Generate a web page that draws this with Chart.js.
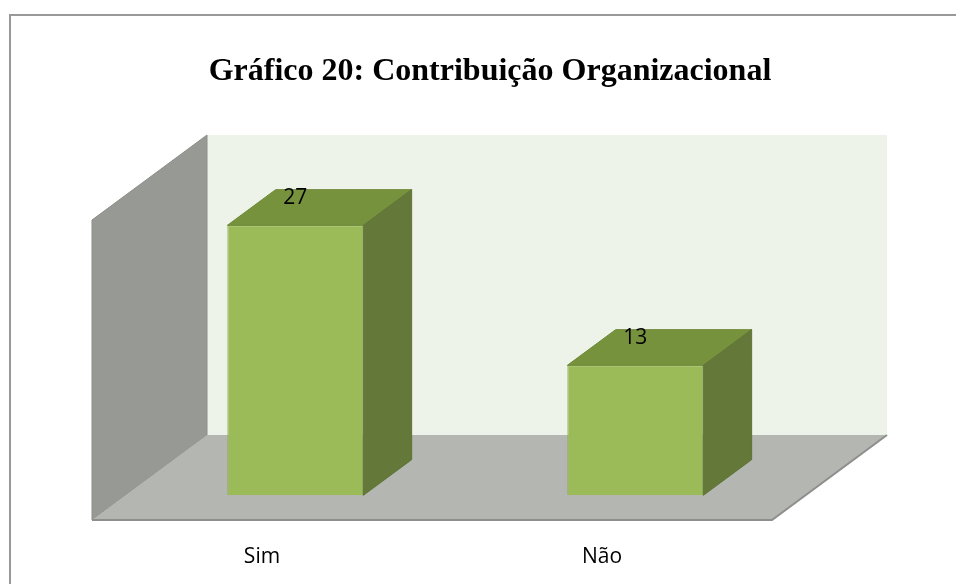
<!DOCTYPE html>
<html>
<head>
<meta charset="utf-8">
<script src="https://cdn.jsdelivr.net/npm/chart.js@4.4.0/dist/chart.umd.min.js"></script>
<style>
html, body { margin: 0; padding: 0; background: #fff; }
</style>
</head>
<body>
<canvas id="grafico" width="957" height="584"></canvas>
<script>
var categorias = ["Sim", "Não"];
var respostas = [27, 13];
var titulo = "Gráfico 20: Contribuição Organizacional";
var eixoMax = 30;

// profundidade do efeito 3d (px) e posicao das barras dentro dela
var prof = { dx: 115, dy: -85 };
var frente = 0.29, fundo = 0.71;

function poly(c, pts, fill, stroke) {
  c.beginPath();
  c.moveTo(pts[0][0], pts[0][1]);
  for (var i = 1; i < pts.length; i++) c.lineTo(pts[i][0], pts[i][1]);
  c.closePath();
  if (fill) { c.fillStyle = fill; c.fill(); }
  if (stroke) { c.strokeStyle = stroke; c.lineWidth = 1; c.stroke(); }
}

var cenario3d = {
  id: 'cenario3d',
  beforeDraw: function(chart) {
    var c = chart.ctx;
    c.save();
    c.fillStyle = '#fff';
    c.fillRect(0, 0, chart.width, chart.height);
    c.strokeStyle = '#999';
    c.lineWidth = 2;
    c.beginPath();
    c.moveTo(10, chart.height);
    c.lineTo(10, 15);
    c.lineTo(chart.width - 1, 15);
    c.stroke();
    c.restore();
  },
  beforeDatasetsDraw: function(chart) {
    var a = chart.chartArea, c = chart.ctx;
    var L = a.left, R = a.right, T = a.top, B = a.bottom, dx = prof.dx, dy = prof.dy;
    c.save();
    // parede do fundo
    c.fillStyle = '#eef3e9';
    c.fillRect(L + dx, T + dy, R - L, B - T);
    // parede lateral
    poly(c, [[L, T], [L + dx, T + dy], [L + dx, B + dy], [L, B]], '#979995', '#8c8e8a');
    // chao
    poly(c, [[L, B], [L + dx, B + dy], [R + dx, B + dy], [R, B]], '#b4b6b1', null);
    c.strokeStyle = '#8e8f8c';
    c.lineWidth = 2;
    c.beginPath();
    c.moveTo(L, B);
    c.lineTo(R, B);
    c.lineTo(R + dx, B + dy);
    c.stroke();
    c.restore();
    // barras desenhadas deslocadas para dentro do chao
    c.save();
    c.translate(prof.dx * frente, prof.dy * frente);
  },
  afterDatasetsDraw: function(chart) {
    var c = chart.ctx;
    c.restore();
    var ox1 = prof.dx * frente, oy1 = prof.dy * frente;
    var ox2 = prof.dx * fundo, oy2 = prof.dy * fundo;
    var meta = chart.getDatasetMeta(0);
    c.save();
    meta.data.forEach(function(el, i) {
      var p = el.getProps(['x', 'y', 'base', 'width'], true);
      var l = p.x - p.width / 2, r = p.x + p.width / 2;
      // topo
      poly(c, [[l + ox1, p.y + oy1], [l + ox2, p.y + oy2], [r + ox2, p.y + oy2], [r + ox1, p.y + oy1]], '#77923d', '#6f8a38');
      // lateral
      poly(c, [[r + ox1, p.y + oy1], [r + ox2, p.y + oy2], [r + ox2, p.base + oy2], [r + ox1, p.base + oy1]], '#647939', '#5f7436');
      // rotulo
      c.fillStyle = '#000';
      c.font = "21px 'Open Sans'";
      c.textAlign = 'center';
      c.textBaseline = 'middle';
      c.fillText(String(respostas[i]), p.x + ox1, p.y + oy2 + 8);
    });
    c.restore();
  }
};

new Chart(document.getElementById('grafico'), {
  type: 'bar',
  data: {
    labels: categorias,
    datasets: [{
      data: respostas,
      backgroundColor: '#9bbb59',
      borderColor: '#89a84e',
      borderWidth: 1,
      barPercentage: 0.4,
      categoryPercentage: 1
    }]
  },
  options: {
    responsive: false,
    animation: false,
    layout: { padding: { left: 23, right: 0, top: 0, bottom: 0 } },
    plugins: {
      legend: { display: false },
      tooltip: { enabled: false },
      title: {
        display: true,
        text: titulo,
        color: '#000',
        font: { family: "'Liberation Serif', 'Times New Roman', serif", size: 32, weight: 'bold' },
        padding: { top: 53, bottom: 128.6 }
      }
    },
    scales: {
      x: {
        grid: { display: false, drawTicks: false },
        border: { display: false },
        ticks: { color: '#000', font: { family: "'Open Sans'", size: 21 }, padding: 24 },
        afterFit: function(s) { s.height = 64; }
      },
      y: {
        min: 0, max: eixoMax,
        grid: { display: false, drawTicks: false },
        border: { display: false },
        ticks: { display: false },
        afterFit: function(s) { s.width = 69; }
      },
      direita: {
        position: 'right',
        grid: { display: false, drawTicks: false },
        border: { display: false },
        ticks: { display: false },
        afterFit: function(s) { s.width = 185; }
      }
    }
  },
  plugins: [cenario3d]
});
</script>
</body>
</html>
